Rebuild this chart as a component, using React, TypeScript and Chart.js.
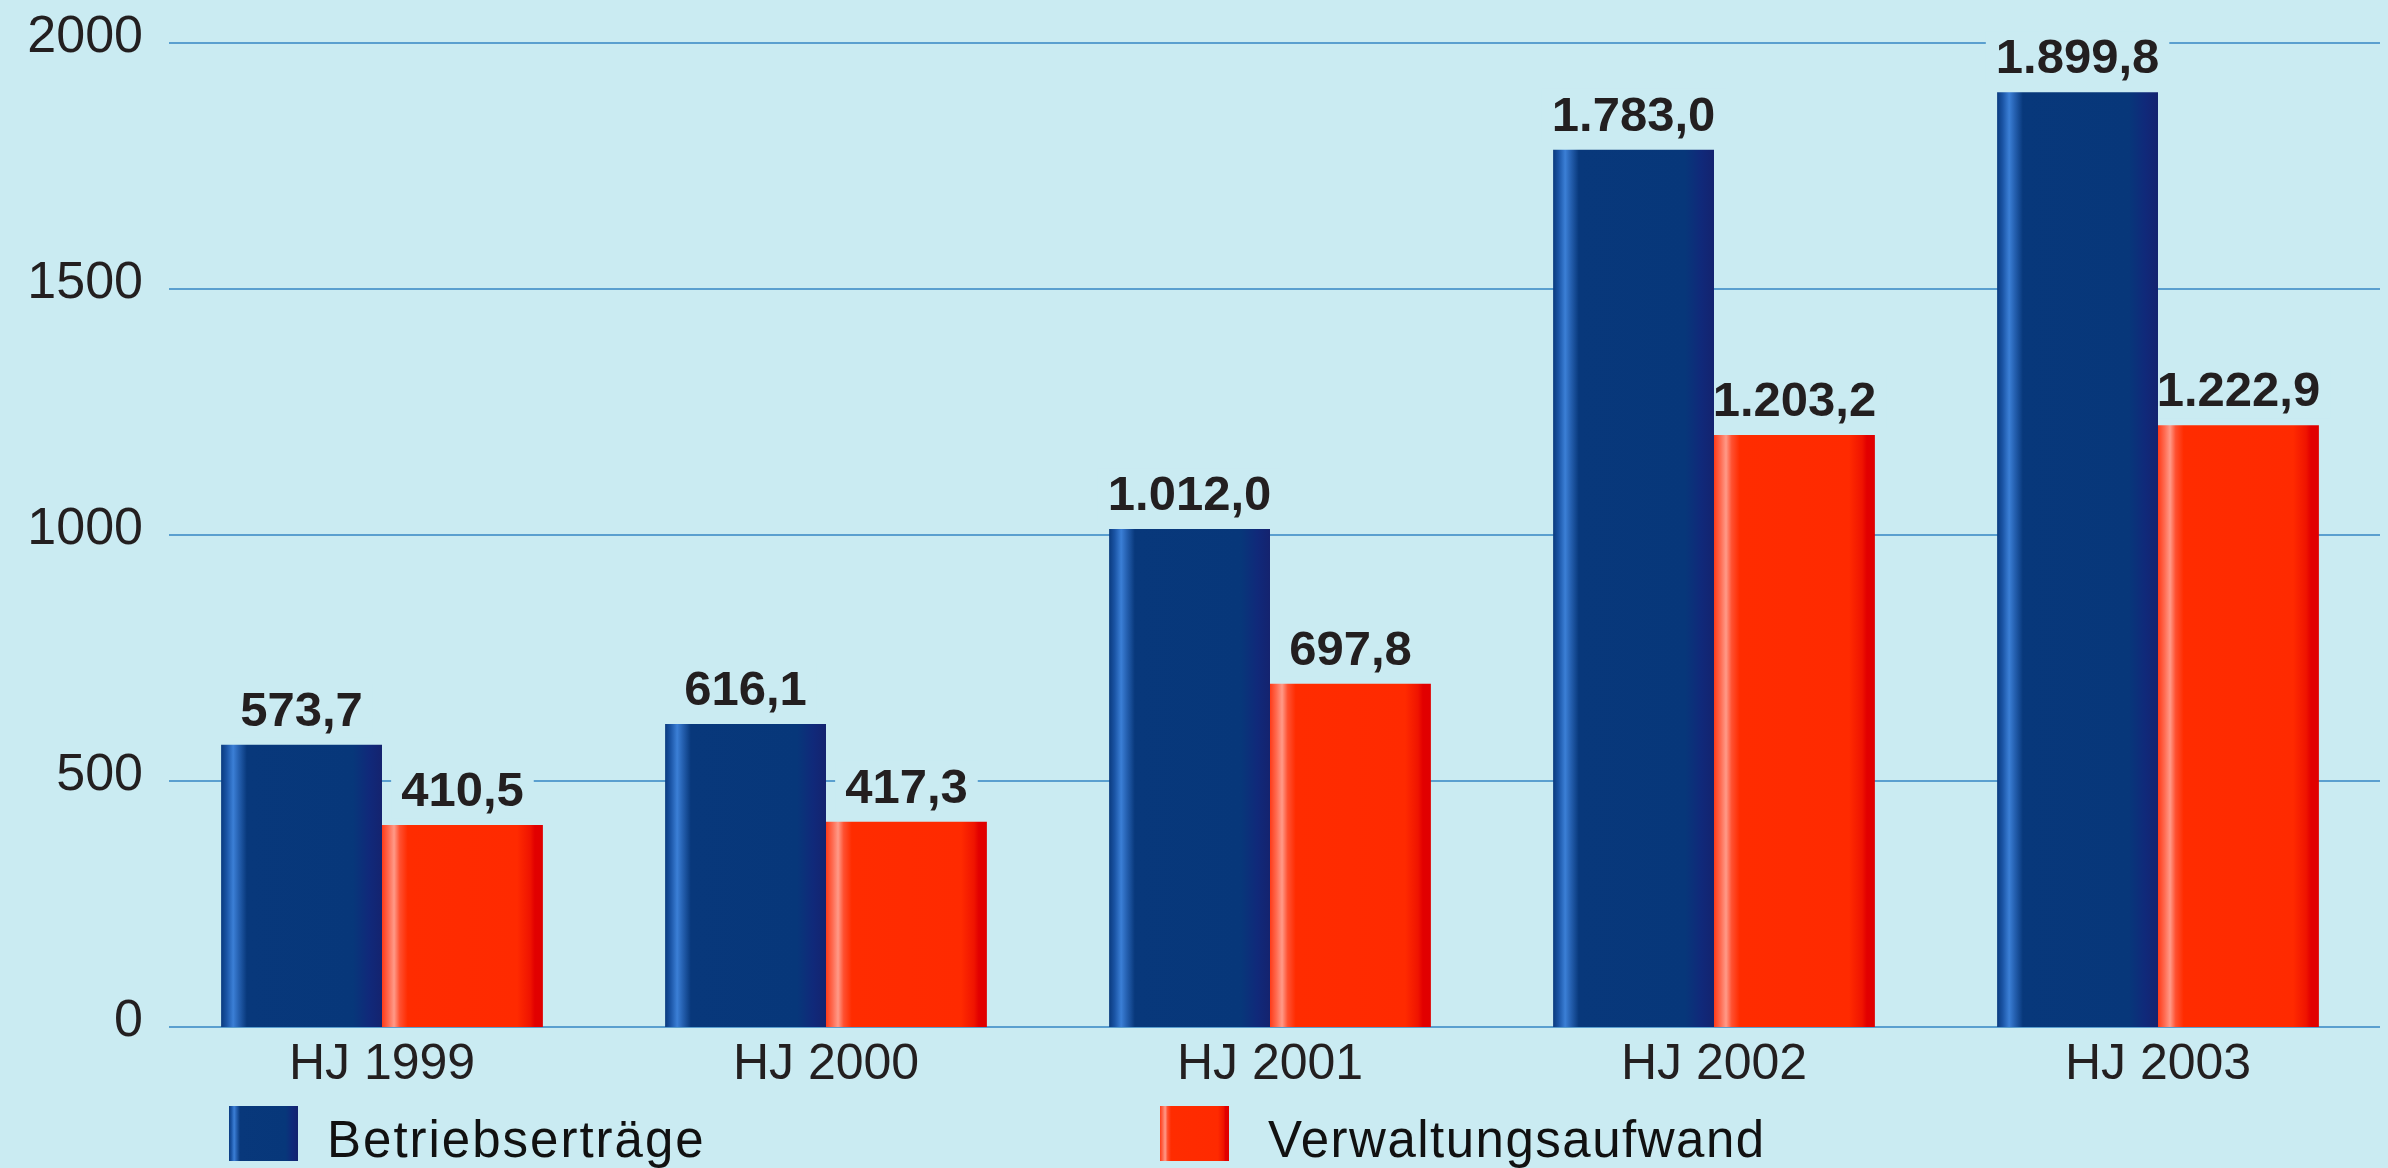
import React, { useEffect, useRef } from "react";
import { Chart, registerables } from "chart.js";

Chart.register(...registerables);

// ---- data ----
const categories = ["HJ 1999", "HJ 2000", "HJ 2001", "HJ 2002", "HJ 2003"];
const betriebsertraege = [573.7, 616.1, 1012.0, 1783.0, 1899.8];
const verwaltungsaufwand = [410.5, 417.3, 697.8, 1203.2, 1222.9];
const seriesNames = ["Betriebserträge", "Verwaltungsaufwand"];
const yTicks = [0, 500, 1000, 1500, 2000];

// ---- styles ----
const W = 2388;
const H = 1168;
const BG = "#CAEBF2";
const GRID = "#5A9FCF";
const TEXT = "#231F20";
const CAT_PCT = 0.7247;
const FONT_FAMILY = '"Liberation Sans", Arial, sans-serif';
const LABEL_FONT = `bold 49px ${FONT_FAMILY}`;

type Stop = [number, string];
const BLUE_STOPS: Stop[] = [
  [0, "#0a3a7e"],
  [0.035, "#1b55a6"],
  [0.075, "#3b7fd6"],
  [0.11, "#2560b0"],
  [0.16, "#08387b"],
  [0.82, "#07377a"],
  [0.92, "#10297a"],
  [1, "#14236f"],
];
const RED_STOPS: Stop[] = [
  [0, "#ff3b18"],
  [0.04, "#ff6a50"],
  [0.075, "#ff9a88"],
  [0.11, "#ff5030"],
  [0.16, "#ff2c00"],
  [0.84, "#ff2a00"],
  [0.92, "#f01400"],
  [0.95, "#e20000"],
  [1, "#e00000"],
];
const STOPS = [BLUE_STOPS, RED_STOPS];
const SOLID = ["#07377a", "#ff2a00"];

function fmt(v: number): string {
  const [i, d] = v.toFixed(1).split(".");
  return i.replace(/\B(?=(\d{3})+(?!\d))/g, ".") + "," + d;
}

function makeGrad(ctx: CanvasRenderingContext2D, x0: number, w: number, stops: Stop[]) {
  if (!isFinite(x0) || !isFinite(w) || w <= 0) return stops[5][1];
  const g = ctx.createLinearGradient(x0, 0, x0 + w, 0);
  stops.forEach(([o, c]) => g.addColorStop(o, c));
  return g;
}

const decor = {
  id: "decor",
  beforeDraw(chart: any) {
    const { ctx } = chart;
    ctx.save();
    ctx.fillStyle = BG;
    ctx.fillRect(0, 0, chart.width, chart.height);
    ctx.restore();
  },
  beforeDatasetsDraw(chart: any) {
    const { ctx, chartArea } = chart;
    const y = chart.scales.y;
    ctx.save();
    // grid lines
    ctx.strokeStyle = GRID;
    ctx.lineWidth = 2;
    yTicks.forEach((t) => {
      const py = Math.round(y.getPixelForValue(t));
      ctx.beginPath();
      ctx.moveTo(chartArea.left + 9, py);
      ctx.lineTo(chartArea.right, py);
      ctx.stroke();
    });
    // y tick labels
    ctx.font = `52px ${FONT_FAMILY}`;
    ctx.fillStyle = TEXT;
    ctx.textAlign = "right";
    ctx.textBaseline = "alphabetic";
    yTicks.forEach((t) => {
      const py = y.getPixelForValue(t);
      ctx.fillText(String(t), chartArea.left - 17, py + 9);
    });
    // label background boxes (interrupt grid lines) + shaded bar fills
    ctx.font = LABEL_FONT;
    ctx.fillStyle = BG;
    chart.data.datasets.forEach((ds: any, di: number) => {
      const meta = chart.getDatasetMeta(di);
      meta.data.forEach((el: any, i: number) => {
        const txt = fmt(ds.data[i]);
        const w = ctx.measureText(txt).width;
        const base = el.y - 19;
        ctx.fillRect(el.x - w / 2 - 10, base - 42, w + 20, 54);
        const left = el.x - el.width / 2;
        const grad = makeGrad(ctx, left, el.width, STOPS[di]);
        el.options = Object.assign({}, el.options, { backgroundColor: grad });
      });
    });
    ctx.restore();
  },
  afterDatasetsDraw(chart: any) {
    const { ctx } = chart;
    ctx.save();
    ctx.font = LABEL_FONT;
    ctx.fillStyle = TEXT;
    ctx.textAlign = "center";
    ctx.textBaseline = "alphabetic";
    chart.data.datasets.forEach((ds: any, di: number) => {
      const meta = chart.getDatasetMeta(di);
      meta.data.forEach((el: any, i: number) => {
        ctx.fillText(fmt(ds.data[i]), el.x, el.y - 19);
      });
    });
    ctx.restore();
  },
  afterDraw(chart: any) {
    const { ctx } = chart;
    const items = [
      { box: 229, text: 327, spacing: "2px" },
      { box: 1160, text: 1268, spacing: "1.5px" },
    ];
    ctx.save();
    chart.data.datasets.forEach((ds: any, di: number) => {
      const it = items[di];
      ctx.fillStyle = makeGrad(ctx, it.box, 69, STOPS[di]);
      ctx.fillRect(it.box, 1106, 69, 55);
      ctx.fillStyle = "#111111";
      ctx.font = `51px ${FONT_FAMILY}`;
      ctx.textAlign = "left";
      ctx.textBaseline = "alphabetic";
      (ctx as any).letterSpacing = it.spacing;
      ctx.fillText(ds.label, it.text, 1157);
      (ctx as any).letterSpacing = "0px";
    });
    ctx.restore();
  },
};

export default function App() {
  const ref = useRef<HTMLCanvasElement | null>(null);

  useEffect(() => {
    if (!ref.current) return;
    const chart = new Chart(ref.current, {
      type: "bar",
      data: {
        labels: categories,
        datasets: [
          {
            label: seriesNames[0],
            data: betriebsertraege,
            backgroundColor: (() => SOLID[0]) as any,
            borderWidth: 0,
            barPercentage: 1,
            categoryPercentage: CAT_PCT,
          },
          {
            label: seriesNames[1],
            data: verwaltungsaufwand,
            backgroundColor: (() => SOLID[1]) as any,
            borderWidth: 0,
            barPercentage: 1,
            categoryPercentage: CAT_PCT,
          },
        ],
      },
      options: {
        responsive: false,
        animation: false,
        devicePixelRatio: 1,
        layout: { padding: { top: 43, right: 8, left: 0, bottom: 0 } },
        plugins: {
          legend: { display: false },
          tooltip: { enabled: false },
        },
        scales: {
          x: {
            grid: { display: false, drawTicks: false },
            border: { display: false },
            ticks: {
              color: TEXT,
              font: { family: FONT_FAMILY, size: 50 },
              padding: 8,
              maxRotation: 0,
              autoSkip: false,
            },
            afterFit: (s: any) => {
              s.height = 141;
            },
          },
          y: {
            min: 0,
            max: 2000,
            grid: { display: false, drawTicks: false },
            border: { display: false },
            ticks: { display: false, stepSize: 500 },
            afterFit: (s: any) => {
              s.width = 160;
            },
          },
        },
      },
      plugins: [decor],
    });
    return () => chart.destroy();
  }, []);

  return (
    <div style={{ position: "fixed", left: 0, top: 0, width: W, height: H, background: BG }}>
      <canvas ref={ref} width={W} height={H} style={{ display: "block" }} />
    </div>
  );
}
